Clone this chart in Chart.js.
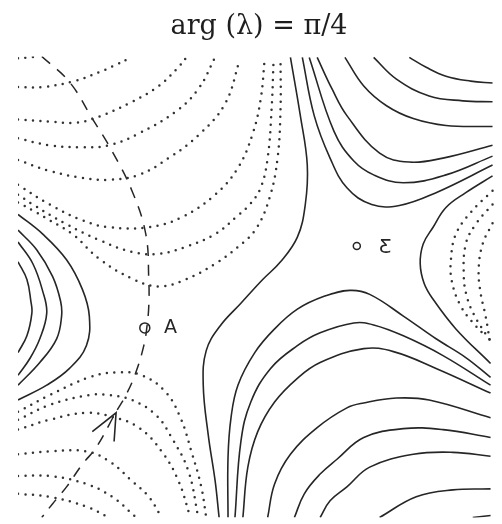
<!DOCTYPE html>
<html>
<head>
<meta charset="utf-8">
<script src="https://cdn.jsdelivr.net/npm/chart.js@4"></script>
<style>
  html, body { margin: 0; padding: 0; background: #fff; }
  canvas { display: block; }
</style>
</head>
<body>
<canvas id="chart" width="502" height="524"></canvas>
<script>
/* Level curves of arg(λ) = π/4 on the sample grid.
   Each curve is a list of [x, y] grid values, y growing downwards. */

const TITLE = 'arg (λ) = π/4';

// dotted levels, upper left
const dotUL1 = [[18,59],[28,58],[38,57]];
const dotUL2 = [[18,88],[43,88],[75,82],[100,73],[118,65],[132,58]];
const dotUL3 = [[18,121],[50,123],[77,124],[100,118],[133,103],[160,87],[178,70],[188,58]];
const dotUL4 = [[18,140],[50,147],[83,149],[110,147],[140,135],[177,113],[200,90],[217,58]];
const dotUL5 = [[18,162],[50,173],[83,180],[110,182],[140,177],[170,160],[200,137],[227,105],[242,60]];
const dotUL6 = [[18,187],[50,207],[83,223],[110,230],[150,230],[183,220],[217,197],[240,170],[255,135],[263,100],[267,60]];
const dotUL7 = [[18,197],[33,207],[67,227],[100,243],[133,255],[160,257],[187,250],[217,237],[240,218],[252,207],[263,190],[270,160],[274,110],[276,60]];
const dotUL8 = [[18,205],[33,213],[50,223],[73,237],[100,262],[133,282],[160,290],[187,283],[217,267],[240,250],[258,232],[272,200],[280,160],[283,110],[283,60]];

// dotted levels, lower left
const dotLL1 = [[18,417],[50,400],[90,382],[117,377],[143,380],[167,397],[182,423],[193,457],[203,493],[208,524]];
const dotLL2 = [[18,425],[50,410],[90,400],[110,400],[133,405],[157,420],[173,443],[190,477],[200,524]];
const dotLL3 = [[18,435],[50,425],[87,418],[113,422],[140,433],[163,457],[180,487],[192,524]];
const dotLL4 = [[18,460],[50,457],[87,457],[110,467],[133,487],[150,503],[163,524]];
const dotLL5 = [[18,482],[50,482],[87,490],[113,503],[133,520],[137,524]];
const dotLL6 = [[18,500],[50,503],[87,513],[110,524]];

// dotted levels, right edge
const dotR1 = [[497,193],[475,215],[460,237],[455,263],[456,285],[465,310],[480,330],[490,340]];
const dotR2 = [[497,207],[480,227],[470,247],[468,280],[471,300],[478,318],[490,338],[495,345]];
const dotR3 = [[497,226],[487,247],[483,273],[485,297],[490,320],[495,350]];

// solid levels, left lobe
const solidL1 = [[18,217],[43,237],[67,263],[83,293],[90,320],[87,350],[70,373],[47,390],[18,405]];
const solidL2 = [[18,233],[37,253],[53,280],[61,305],[62,320],[57,343],[40,367],[18,390]];
const solidL3 = [[18,245],[33,267],[43,295],[47,317],[40,343],[30,363],[18,380]];
const solidL4 = [[18,265],[27,283],[31,305],[32,317],[27,340],[18,357]];

// solid levels through the saddle region
const solidC1 = [[293,58],[303,117],[310,167],[308,207],[300,240],[283,265],[265,283],[243,307],[222,330],[208,355],[205,390],[210,440],[217,487],[221,524]];
const solidC2 = [[497,178],[470,195],[450,210],[437,230],[427,247],[424,267],[428,287],[437,303],[460,333],[495,368]];

// solid levels, upper right
const solidT1 = [[413,58],[430,68],[450,77],[475,82],[497,84]];
const solidT2 = [[377,58],[400,80],[433,97],[467,102],[497,103]];
const solidT3 = [[348,58],[367,87],[390,107],[417,120],[450,127],[497,128]];
const solidT4 = [[320,58],[335,90],[350,117],[383,155],[413,164],[447,160],[497,147]];
const solidT5 = [[312,58],[337,133],[357,163],[377,177],[407,185],[450,177],[497,158]];
const solidT6 = [[305,58],[317,117],[333,160],[350,190],[375,207],[403,208],[440,195],[497,167]];

// solid levels, lower right arches
const solidA1 = [[230,524],[230,463],[233,423],[240,390],[257,357],[277,333],[300,313],[327,300],[353,294],[373,298],[407,320],[440,343],[470,362],[495,382]];
const solidA2 = [[237,524],[243,447],[253,407],[273,373],[300,350],[323,337],[357,327],[377,329],[407,340],[447,360],[495,390]];
const solidA3 = [[245,524],[250,473],[260,437],[277,407],[300,383],[323,367],[367,353],[397,356],[440,373],[495,398]];
const solidA4 = [[270,524],[277,490],[293,460],[320,433],[350,413],[367,408],[400,403],[433,405],[495,423]];
const solidA5 = [[297,524],[307,500],[323,480],[340,465],[367,443],[407,434],[447,435],[495,443]];
const solidA6 = [[323,524],[333,507],[350,493],[373,473],[417,460],[457,458],[495,462]];
const solidA7 = [[383,524],[420,503],[457,496],[495,495]];
const solidA8 = [[477,524],[495,522]];

// steepest path (dashed) and its direction arrow
const pathLine = [[42,57],[70,83],[93,120],[113,153],[133,193],[147,237],[150,283],[150,310],[148,332],[145,350],[137,377],[127,400],[117,417],[97,453],[83,470],[67,493],[53,510],[42,524]];
const pathArrow = [[93,437],[117,418],[115,447]];

// critical points and their labels
const critX = [146, 360];
const critY = [332, 249];
const critRadius = [5, 3.5];
const critNames = ['A', 'Ƹ'];
const critNameX = [172, 389];
const critNameY = [332, 251];

const dottedCurves = [dotUL1, dotUL2, dotUL3, dotUL4, dotUL5, dotUL6, dotUL7, dotUL8,
  dotLL1, dotLL2, dotLL3, dotLL4, dotLL5, dotLL6, dotR1, dotR2, dotR3];
const solidCurves = [solidL1, solidL2, solidL3, solidL4, solidC1, solidC2,
  solidT1, solidT2, solidT3, solidT4, solidT5, solidT6,
  solidA1, solidA2, solidA3, solidA4, solidA5, solidA6, solidA7, solidA8];

const INK = '#262626';

function curve(points, extra) {
  return Object.assign({
    data: points.map(([x, y]) => ({ x, y })),
    showLine: true, pointRadius: 0, pointHoverRadius: 0,
    borderColor: INK, borderWidth: 1.6, tension: 0.4, fill: false
  }, extra);
}

const datasets = [];
dottedCurves.forEach(c => datasets.push(curve(c, {
  borderDash: [0, 7.5], borderCapStyle: 'round', borderWidth: 2.5, borderColor: '#333'
})));
solidCurves.forEach(c => datasets.push(curve(c, {})));
datasets.push(curve(pathLine, { borderDash: [11, 9], borderWidth: 1.5 }));
datasets.push(curve(pathArrow, { tension: 0 }));
datasets.push({
  data: critX.map((x, i) => ({ x, y: critY[i] })),
  showLine: false,
  pointStyle: 'circle',
  pointRadius: critRadius,
  pointBorderWidth: 1.5,
  pointBorderColor: INK,
  pointBackgroundColor: 'rgba(255,255,255,0)'
});

/* ── Labels next to the critical points ── */
const critLabels = {
  id: 'critLabels',
  afterDatasetsDraw(chart) {
    const { ctx, scales } = chart;
    ctx.save();
    ctx.fillStyle = INK;
    ctx.font = '19px "DejaVu Sans"';
    ctx.textAlign = 'center';
    ctx.textBaseline = 'middle';
    critNames.forEach((name, i) => {
      ctx.fillText(name, scales.x.getPixelForValue(critNameX[i]), scales.y.getPixelForValue(critNameY[i]));
    });
    ctx.restore();
  }
};

new Chart(document.getElementById('chart'), {
  type: 'scatter',
  data: { datasets },
  options: {
    responsive: false,
    animation: false,
    events: [],
    layout: { padding: { left: 18, right: 2, top: 0, bottom: 0 } },
    plugins: {
      legend: { display: false },
      tooltip: { enabled: false },
      title: {
        display: true, text: TITLE, color: '#1e1e1e',
        font: { family: '"DejaVu Serif", serif', size: 27, weight: 'normal', lineHeight: 1.2 },
        padding: { top: 11, bottom: 13 }
      }
    },
    scales: {
      x: { type: 'linear', min: 18, max: 500, display: false },
      y: { type: 'linear', min: 57, max: 524, reverse: true, display: false }
    }
  },
  plugins: [critLabels]
});
</script>
</body>
</html>
